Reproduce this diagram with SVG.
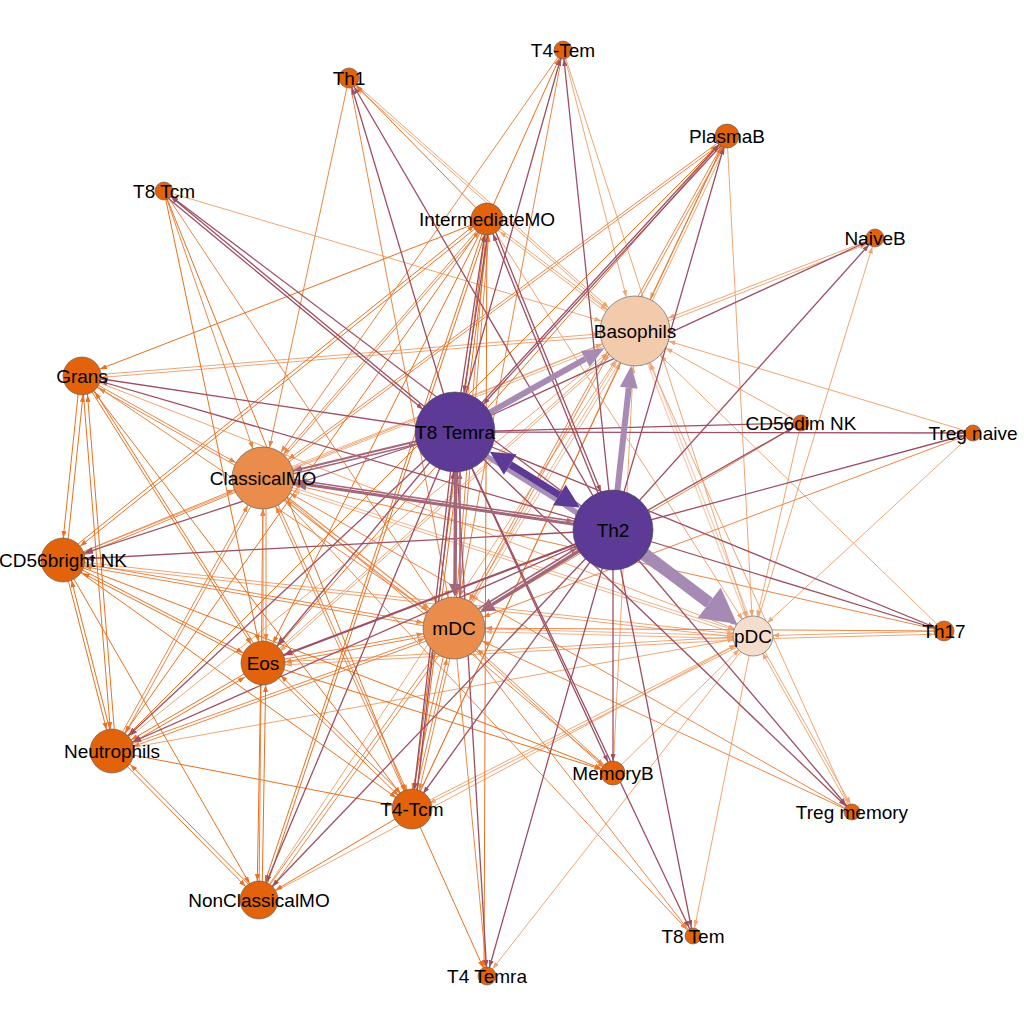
<svg xmlns="http://www.w3.org/2000/svg" width="1024" height="1024" viewBox="0 0 1024 1024">
<style>
line{fill:none}
.o{stroke:#e8701f;stroke-width:1}
.om{stroke:#eb8544;stroke-width:1}
.ol{stroke:#f1a572;stroke-width:1}
.ml{stroke:#f0b28a;stroke-width:1}
.mm{stroke:#e98c4c;stroke-width:1.2}
.ll{stroke:#f2cbb4;stroke-width:1.2}
.v{stroke:#9e4f62;stroke-width:1.3}
.v2{stroke:#9e4f62;stroke-width:2.2}
.vm{stroke:#a5677a;stroke-width:1.6}
.vl{stroke:#ab8db6;stroke-width:1.2}
.fo{fill:#e8701f}.fom{fill:#eb8544}.fol{fill:#f1a572}.fml{fill:#f0b28a}.fmm{fill:#e98c4c}.fll{fill:#f2cbb4}.fv{fill:#9e4f62}.fvm{fill:#a5677a}.fvl{fill:#ab8db6}
.nd{fill:#e3630d;stroke:#555;stroke-width:0.6}
.nm{fill:#ea8c4c;stroke:#555;stroke-width:0.6}
.nb{fill:#f2cbad;stroke:#555;stroke-width:0.6}
.np{fill:#f4ddcc;stroke:#555;stroke-width:0.6}
.nv{fill:#5c3a96;stroke:#444;stroke-width:0.6}
text{font-family:"Liberation Sans",Arial,Helvetica,sans-serif;font-size:19px;fill:#000;text-anchor:middle}
</style>
<defs>
<marker id="o9" markerUnits="userSpaceOnUse" markerWidth="7" markerHeight="5" refX="16" refY="2.5" orient="auto"><path d="M0,0L7,2.5L0,5z" class="fo"/></marker>
<marker id="o10" markerUnits="userSpaceOnUse" markerWidth="7" markerHeight="5" refX="17" refY="2.5" orient="auto"><path d="M0,0L7,2.5L0,5z" class="fo"/></marker>
<marker id="o12" markerUnits="userSpaceOnUse" markerWidth="7" markerHeight="5" refX="19" refY="2.5" orient="auto"><path d="M0,0L7,2.5L0,5z" class="fo"/></marker>
<marker id="o16" markerUnits="userSpaceOnUse" markerWidth="7" markerHeight="5" refX="23" refY="2.5" orient="auto"><path d="M0,0L7,2.5L0,5z" class="fo"/></marker>
<marker id="o19" markerUnits="userSpaceOnUse" markerWidth="7" markerHeight="5" refX="26" refY="2.5" orient="auto"><path d="M0,0L7,2.5L0,5z" class="fo"/></marker>
<marker id="o22" markerUnits="userSpaceOnUse" markerWidth="7" markerHeight="5" refX="29" refY="2.5" orient="auto"><path d="M0,0L7,2.5L0,5z" class="fo"/></marker>
<marker id="om9" markerUnits="userSpaceOnUse" markerWidth="7" markerHeight="5" refX="16" refY="2.5" orient="auto"><path d="M0,0L7,2.5L0,5z" class="fom"/></marker>
<marker id="om12" markerUnits="userSpaceOnUse" markerWidth="7" markerHeight="5" refX="19" refY="2.5" orient="auto"><path d="M0,0L7,2.5L0,5z" class="fom"/></marker>
<marker id="om16" markerUnits="userSpaceOnUse" markerWidth="7" markerHeight="5" refX="23" refY="2.5" orient="auto"><path d="M0,0L7,2.5L0,5z" class="fom"/></marker>
<marker id="om19" markerUnits="userSpaceOnUse" markerWidth="7" markerHeight="5" refX="26" refY="2.5" orient="auto"><path d="M0,0L7,2.5L0,5z" class="fom"/></marker>
<marker id="om22" markerUnits="userSpaceOnUse" markerWidth="7" markerHeight="5" refX="29" refY="2.5" orient="auto"><path d="M0,0L7,2.5L0,5z" class="fom"/></marker>
<marker id="om31" markerUnits="userSpaceOnUse" markerWidth="7" markerHeight="5" refX="38" refY="2.5" orient="auto"><path d="M0,0L7,2.5L0,5z" class="fom"/></marker>
<marker id="ol9" markerUnits="userSpaceOnUse" markerWidth="7" markerHeight="5" refX="16" refY="2.5" orient="auto"><path d="M0,0L7,2.5L0,5z" class="fol"/></marker>
<marker id="ol10" markerUnits="userSpaceOnUse" markerWidth="7" markerHeight="5" refX="17" refY="2.5" orient="auto"><path d="M0,0L7,2.5L0,5z" class="fol"/></marker>
<marker id="ol12" markerUnits="userSpaceOnUse" markerWidth="7" markerHeight="5" refX="19" refY="2.5" orient="auto"><path d="M0,0L7,2.5L0,5z" class="fol"/></marker>
<marker id="ol16" markerUnits="userSpaceOnUse" markerWidth="7" markerHeight="5" refX="23" refY="2.5" orient="auto"><path d="M0,0L7,2.5L0,5z" class="fol"/></marker>
<marker id="ol19" markerUnits="userSpaceOnUse" markerWidth="7" markerHeight="5" refX="26" refY="2.5" orient="auto"><path d="M0,0L7,2.5L0,5z" class="fol"/></marker>
<marker id="ol22" markerUnits="userSpaceOnUse" markerWidth="7" markerHeight="5" refX="29" refY="2.5" orient="auto"><path d="M0,0L7,2.5L0,5z" class="fol"/></marker>
<marker id="ol35" markerUnits="userSpaceOnUse" markerWidth="7" markerHeight="5" refX="42" refY="2.5" orient="auto"><path d="M0,0L7,2.5L0,5z" class="fol"/></marker>
<marker id="ml19" markerUnits="userSpaceOnUse" markerWidth="7" markerHeight="5" refX="26" refY="2.5" orient="auto"><path d="M0,0L7,2.5L0,5z" class="fml"/></marker>
<marker id="ml31" markerUnits="userSpaceOnUse" markerWidth="7" markerHeight="5" refX="38" refY="2.5" orient="auto"><path d="M0,0L7,2.5L0,5z" class="fml"/></marker>
<marker id="ml35" markerUnits="userSpaceOnUse" markerWidth="7" markerHeight="5" refX="42" refY="2.5" orient="auto"><path d="M0,0L7,2.5L0,5z" class="fml"/></marker>
<marker id="mm31" markerUnits="userSpaceOnUse" markerWidth="7" markerHeight="5" refX="38" refY="2.5" orient="auto"><path d="M0,0L7,2.5L0,5z" class="fmm"/></marker>
<marker id="ll19" markerUnits="userSpaceOnUse" markerWidth="7" markerHeight="5" refX="26" refY="2.5" orient="auto"><path d="M0,0L7,2.5L0,5z" class="fll"/></marker>
<marker id="ll35" markerUnits="userSpaceOnUse" markerWidth="7" markerHeight="5" refX="42" refY="2.5" orient="auto"><path d="M0,0L7,2.5L0,5z" class="fll"/></marker>
<marker id="v9" markerUnits="userSpaceOnUse" markerWidth="7" markerHeight="5" refX="16" refY="2.5" orient="auto"><path d="M0,0L7,2.5L0,5z" class="fv"/></marker>
<marker id="v10" markerUnits="userSpaceOnUse" markerWidth="7" markerHeight="5" refX="17" refY="2.5" orient="auto"><path d="M0,0L7,2.5L0,5z" class="fv"/></marker>
<marker id="v12" markerUnits="userSpaceOnUse" markerWidth="7" markerHeight="5" refX="19" refY="2.5" orient="auto"><path d="M0,0L7,2.5L0,5z" class="fv"/></marker>
<marker id="v16" markerUnits="userSpaceOnUse" markerWidth="7" markerHeight="5" refX="23" refY="2.5" orient="auto"><path d="M0,0L7,2.5L0,5z" class="fv"/></marker>
<marker id="v19" markerUnits="userSpaceOnUse" markerWidth="7" markerHeight="5" refX="26" refY="2.5" orient="auto"><path d="M0,0L7,2.5L0,5z" class="fv"/></marker>
<marker id="v22" markerUnits="userSpaceOnUse" markerWidth="9" markerHeight="7" refX="31" refY="3.5" orient="auto"><path d="M0,0L9,3.5L0,7z" class="fv"/></marker>
<marker id="v40" markerUnits="userSpaceOnUse" markerWidth="7" markerHeight="5" refX="47" refY="2.5" orient="auto"><path d="M0,0L7,2.5L0,5z" class="fv"/></marker>
<marker id="vm31" markerUnits="userSpaceOnUse" markerWidth="9" markerHeight="7" refX="40" refY="3.5" orient="auto"><path d="M0,0L9,3.5L0,7z" class="fvm"/></marker>
<marker id="vm40" markerUnits="userSpaceOnUse" markerWidth="7" markerHeight="5" refX="47" refY="2.5" orient="auto"><path d="M0,0L7,2.5L0,5z" class="fvm"/></marker>
<marker id="vl19" markerUnits="userSpaceOnUse" markerWidth="7" markerHeight="5" refX="26" refY="2.5" orient="auto"><path d="M0,0L7,2.5L0,5z" class="fvl"/></marker>
</defs>
<rect width="1024" height="1024" fill="#fff"/>
<g id="edges">
<line class="ll" x1="635" y1="331" x2="753" y2="636" marker-end="url(#ll19)"/>
<line class="ll" x1="756" y1="635" x2="638" y2="330" marker-end="url(#ll35)"/>
<line class="ml" x1="263" y1="478" x2="635" y2="331" marker-end="url(#ml35)"/>
<line class="ml" x1="635" y1="334" x2="263" y2="481" marker-end="url(#ml31)"/>
<line class="ml" x1="454" y1="628" x2="635" y2="331" marker-end="url(#ml35)"/>
<line class="ml" x1="638" y1="332" x2="457" y2="629" marker-end="url(#ml31)"/>
<line class="ml" x1="263" y1="478" x2="753" y2="636" marker-end="url(#ml19)"/>
<line class="ml" x1="753" y1="639" x2="263" y2="481" marker-end="url(#ml31)"/>
<line class="ml" x1="454" y1="628" x2="753" y2="636" marker-end="url(#ml19)"/>
<line class="ml" x1="753" y1="639" x2="454" y2="631" marker-end="url(#ml31)"/>
<line class="mm" x1="263" y1="478" x2="454" y2="628" marker-end="url(#mm31)"/>
<line class="mm" x1="452" y1="631" x2="261" y2="481" marker-end="url(#mm31)"/>
<line class="ol" x1="727" y1="136" x2="635" y2="331" marker-end="url(#ol35)"/>
<line class="ol" x1="638" y1="331" x2="730" y2="137" marker-end="url(#ol12)"/>
<line class="ol" x1="563" y1="50" x2="635" y2="331" marker-end="url(#ol35)"/>
<line class="ol" x1="349" y1="78" x2="635" y2="331" marker-end="url(#ol35)"/>
<line class="ol" x1="635" y1="334" x2="349" y2="81" marker-end="url(#ol10)"/>
<line class="ol" x1="487" y1="219" x2="635" y2="331" marker-end="url(#ol35)"/>
<line class="ol" x1="635" y1="334" x2="487" y2="222" marker-end="url(#ol16)"/>
<line class="ol" x1="875" y1="238" x2="635" y2="331" marker-end="url(#ol35)"/>
<line class="ol" x1="635" y1="334" x2="875" y2="241" marker-end="url(#ol9)"/>
<line class="ol" x1="164" y1="191" x2="635" y2="331" marker-end="url(#ol35)"/>
<line class="ol" x1="82" y1="376" x2="635" y2="331" marker-end="url(#ol35)"/>
<line class="ol" x1="635" y1="334" x2="82" y2="379" marker-end="url(#ol19)"/>
<line class="ol" x1="63" y1="560" x2="635" y2="331" marker-end="url(#ol35)"/>
<line class="ol" x1="112" y1="751" x2="635" y2="331" marker-end="url(#ol35)"/>
<line class="ol" x1="263" y1="663" x2="635" y2="331" marker-end="url(#ol35)"/>
<line class="ol" x1="635" y1="334" x2="263" y2="666" marker-end="url(#ol22)"/>
<line class="ol" x1="259" y1="900" x2="635" y2="331" marker-end="url(#ol35)"/>
<line class="ol" x1="412" y1="809" x2="635" y2="331" marker-end="url(#ol35)"/>
<line class="ol" x1="613" y1="773" x2="635" y2="331" marker-end="url(#ol35)"/>
<line class="ol" x1="973" y1="433" x2="635" y2="331" marker-end="url(#ol35)"/>
<line class="ol" x1="944" y1="631" x2="635" y2="331" marker-end="url(#ol35)"/>
<line class="ol" x1="852" y1="812" x2="635" y2="331" marker-end="url(#ol35)"/>
<line class="ol" x1="801" y1="423" x2="635" y2="331" marker-end="url(#ol35)"/>
<line class="ol" x1="727" y1="136" x2="753" y2="636" marker-end="url(#ol19)"/>
<line class="ol" x1="563" y1="50" x2="753" y2="636" marker-end="url(#ol19)"/>
<line class="ol" x1="487" y1="219" x2="753" y2="636" marker-end="url(#ol19)"/>
<line class="ol" x1="753" y1="636" x2="875" y2="238" marker-end="url(#ol9)"/>
<line class="ol" x1="801" y1="423" x2="753" y2="636" marker-end="url(#ol19)"/>
<line class="ol" x1="973" y1="433" x2="753" y2="636" marker-end="url(#ol19)"/>
<line class="ol" x1="944" y1="631" x2="753" y2="636" marker-end="url(#ol19)"/>
<line class="ol" x1="753" y1="639" x2="944" y2="634" marker-end="url(#ol10)"/>
<line class="ol" x1="852" y1="812" x2="753" y2="636" marker-end="url(#ol19)"/>
<line class="ol" x1="756" y1="636" x2="855" y2="812" marker-end="url(#ol9)"/>
<line class="ol" x1="82" y1="376" x2="753" y2="636" marker-end="url(#ol19)"/>
<line class="ol" x1="63" y1="560" x2="753" y2="636" marker-end="url(#ol19)"/>
<line class="ol" x1="753" y1="639" x2="63" y2="563" marker-end="url(#ol22)"/>
<line class="ol" x1="112" y1="751" x2="753" y2="636" marker-end="url(#ol19)"/>
<line class="ol" x1="263" y1="663" x2="753" y2="636" marker-end="url(#ol19)"/>
<line class="ol" x1="753" y1="639" x2="263" y2="666" marker-end="url(#ol22)"/>
<line class="ol" x1="259" y1="900" x2="753" y2="636" marker-end="url(#ol19)"/>
<line class="ol" x1="412" y1="809" x2="753" y2="636" marker-end="url(#ol19)"/>
<line class="ol" x1="753" y1="639" x2="412" y2="812" marker-end="url(#ol19)"/>
<line class="ol" x1="613" y1="773" x2="753" y2="636" marker-end="url(#ol19)"/>
<line class="ol" x1="753" y1="636" x2="693" y2="936" marker-end="url(#ol9)"/>
<line class="ol" x1="753" y1="636" x2="487" y2="976" marker-end="url(#ol9)"/>
<line class="om" x1="82" y1="376" x2="263" y2="478" marker-end="url(#om31)"/>
<line class="om" x1="263" y1="481" x2="82" y2="379" marker-end="url(#om19)"/>
<line class="om" x1="82" y1="376" x2="454" y2="628" marker-end="url(#om31)"/>
<line class="om" x1="63" y1="560" x2="263" y2="478" marker-end="url(#om31)"/>
<line class="om" x1="263" y1="481" x2="63" y2="563" marker-end="url(#om22)"/>
<line class="om" x1="63" y1="560" x2="454" y2="628" marker-end="url(#om31)"/>
<line class="om" x1="454" y1="631" x2="63" y2="563" marker-end="url(#om22)"/>
<line class="om" x1="112" y1="751" x2="263" y2="478" marker-end="url(#om31)"/>
<line class="om" x1="266" y1="479" x2="115" y2="752" marker-end="url(#om22)"/>
<line class="om" x1="112" y1="751" x2="454" y2="628" marker-end="url(#om31)"/>
<line class="om" x1="454" y1="631" x2="112" y2="754" marker-end="url(#om22)"/>
<line class="om" x1="263" y1="663" x2="263" y2="478" marker-end="url(#om31)"/>
<line class="om" x1="266" y1="478" x2="266" y2="663" marker-end="url(#om22)"/>
<line class="om" x1="263" y1="663" x2="454" y2="628" marker-end="url(#om31)"/>
<line class="om" x1="454" y1="631" x2="263" y2="666" marker-end="url(#om22)"/>
<line class="om" x1="259" y1="900" x2="263" y2="478" marker-end="url(#om31)"/>
<line class="om" x1="259" y1="900" x2="454" y2="628" marker-end="url(#om31)"/>
<line class="om" x1="457" y1="630" x2="262" y2="902" marker-end="url(#om19)"/>
<line class="om" x1="412" y1="809" x2="263" y2="478" marker-end="url(#om31)"/>
<line class="om" x1="266" y1="478" x2="415" y2="809" marker-end="url(#om19)"/>
<line class="om" x1="412" y1="809" x2="454" y2="628" marker-end="url(#om31)"/>
<line class="om" x1="457" y1="628" x2="415" y2="809" marker-end="url(#om19)"/>
<line class="om" x1="450" y1="628" x2="408" y2="809" marker-end="url(#om19)"/>
<line class="om" x1="487" y1="219" x2="263" y2="478" marker-end="url(#om31)"/>
<line class="om" x1="266" y1="478" x2="490" y2="219" marker-end="url(#om16)"/>
<line class="om" x1="487" y1="219" x2="454" y2="628" marker-end="url(#om31)"/>
<line class="om" x1="457" y1="628" x2="490" y2="219" marker-end="url(#om16)"/>
<line class="om" x1="164" y1="191" x2="263" y2="478" marker-end="url(#om31)"/>
<line class="om" x1="164" y1="191" x2="454" y2="628" marker-end="url(#om31)"/>
<line class="om" x1="349" y1="78" x2="263" y2="478" marker-end="url(#om31)"/>
<line class="om" x1="349" y1="78" x2="454" y2="628" marker-end="url(#om31)"/>
<line class="om" x1="563" y1="50" x2="263" y2="478" marker-end="url(#om31)"/>
<line class="om" x1="563" y1="50" x2="454" y2="628" marker-end="url(#om31)"/>
<line class="om" x1="727" y1="136" x2="263" y2="478" marker-end="url(#om31)"/>
<line class="om" x1="263" y1="481" x2="727" y2="139" marker-end="url(#om12)"/>
<line class="om" x1="727" y1="136" x2="454" y2="628" marker-end="url(#om31)"/>
<line class="om" x1="457" y1="628" x2="730" y2="136" marker-end="url(#om12)"/>
<line class="om" x1="801" y1="423" x2="454" y2="628" marker-end="url(#om31)"/>
<line class="om" x1="973" y1="433" x2="454" y2="628" marker-end="url(#om31)"/>
<line class="om" x1="944" y1="631" x2="263" y2="478" marker-end="url(#om31)"/>
<line class="om" x1="944" y1="631" x2="454" y2="628" marker-end="url(#om31)"/>
<line class="om" x1="852" y1="812" x2="454" y2="628" marker-end="url(#om31)"/>
<line class="om" x1="852" y1="812" x2="263" y2="478" marker-end="url(#om31)"/>
<line class="om" x1="613" y1="773" x2="454" y2="628" marker-end="url(#om31)"/>
<line class="om" x1="454" y1="631" x2="613" y2="776" marker-end="url(#om12)"/>
<line class="om" x1="263" y1="478" x2="613" y2="773" marker-end="url(#om12)"/>
<line class="om" x1="263" y1="478" x2="693" y2="936" marker-end="url(#om9)"/>
<line class="om" x1="454" y1="628" x2="487" y2="976" marker-end="url(#om9)"/>
<line class="om" x1="454" y1="628" x2="693" y2="936" marker-end="url(#om9)"/>
<line class="o" x1="80" y1="376" x2="61" y2="560" marker-end="url(#o22)"/>
<line class="o" x1="66" y1="560" x2="85" y2="376" marker-end="url(#o19)"/>
<line class="o" x1="82" y1="376" x2="112" y2="751" marker-end="url(#o22)"/>
<line class="o" x1="116" y1="751" x2="86" y2="376" marker-end="url(#o19)"/>
<line class="o" x1="63" y1="560" x2="112" y2="751" marker-end="url(#o22)"/>
<line class="o" x1="115" y1="750" x2="66" y2="559" marker-end="url(#o22)"/>
<line class="o" x1="82" y1="376" x2="263" y2="663" marker-end="url(#o22)"/>
<line class="o" x1="82" y1="376" x2="412" y2="809" marker-end="url(#o19)"/>
<line class="o" x1="63" y1="560" x2="263" y2="663" marker-end="url(#o22)"/>
<line class="o" x1="263" y1="666" x2="63" y2="563" marker-end="url(#o22)"/>
<line class="o" x1="63" y1="560" x2="412" y2="809" marker-end="url(#o19)"/>
<line class="o" x1="63" y1="560" x2="259" y2="900" marker-end="url(#o19)"/>
<line class="o" x1="63" y1="560" x2="613" y2="773" marker-end="url(#o12)"/>
<line class="o" x1="112" y1="751" x2="259" y2="900" marker-end="url(#o19)"/>
<line class="o" x1="262" y1="898" x2="115" y2="749" marker-end="url(#o22)"/>
<line class="o" x1="112" y1="751" x2="412" y2="809" marker-end="url(#o19)"/>
<line class="o" x1="261" y1="663" x2="257" y2="900" marker-end="url(#o19)"/>
<line class="o" x1="262" y1="900" x2="266" y2="663" marker-end="url(#o22)"/>
<line class="o" x1="263" y1="663" x2="412" y2="809" marker-end="url(#o19)"/>
<line class="o" x1="414" y1="806" x2="265" y2="660" marker-end="url(#o22)"/>
<line class="o" x1="263" y1="663" x2="112" y2="751" marker-end="url(#o22)"/>
<line class="o" x1="113" y1="754" x2="264" y2="666" marker-end="url(#o22)"/>
<line class="o" x1="266" y1="663" x2="85" y2="376" marker-end="url(#o19)"/>
<line class="o" x1="487" y1="219" x2="63" y2="560" marker-end="url(#o22)"/>
<line class="o" x1="63" y1="556" x2="487" y2="215" marker-end="url(#o16)"/>
<line class="o" x1="487" y1="219" x2="82" y2="376" marker-end="url(#o19)"/>
<line class="o" x1="487" y1="219" x2="112" y2="751" marker-end="url(#o22)"/>
<line class="o" x1="487" y1="219" x2="263" y2="663" marker-end="url(#o22)"/>
<line class="o" x1="487" y1="219" x2="259" y2="900" marker-end="url(#o19)"/>
<line class="o" x1="487" y1="219" x2="412" y2="809" marker-end="url(#o19)"/>
<line class="o" x1="415" y1="809" x2="490" y2="219" marker-end="url(#o16)"/>
<line class="o" x1="262" y1="900" x2="490" y2="219" marker-end="url(#o16)"/>
<line class="o" x1="412" y1="809" x2="259" y2="900" marker-end="url(#o19)"/>
<line class="o" x1="412" y1="809" x2="487" y2="976" marker-end="url(#o9)"/>
<line class="o" x1="487" y1="219" x2="484" y2="976" marker-end="url(#o9)"/>
<line class="o" x1="263" y1="663" x2="613" y2="773" marker-end="url(#o12)"/>
<line class="o" x1="164" y1="191" x2="263" y2="663" marker-end="url(#o22)"/>
<line class="o" x1="164" y1="191" x2="412" y2="809" marker-end="url(#o19)"/>
<line class="o" x1="487" y1="219" x2="563" y2="50" marker-end="url(#o9)"/>
<line class="o" x1="487" y1="219" x2="349" y2="78" marker-end="url(#o10)"/>
<line class="o" x1="263" y1="663" x2="727" y2="136" marker-end="url(#o12)"/>
<line class="o" x1="112" y1="751" x2="727" y2="136" marker-end="url(#o12)"/>
<line class="o" x1="412" y1="809" x2="727" y2="136" marker-end="url(#o12)"/>
<line class="v" x1="455" y1="432" x2="349" y2="78" marker-end="url(#v10)"/>
<line class="v" x1="455" y1="432" x2="563" y2="50" marker-end="url(#v9)"/>
<line class="v" x1="455" y1="432" x2="164" y2="191" marker-end="url(#v9)"/>
<line class="v" x1="455" y1="432" x2="727" y2="136" marker-end="url(#v12)"/>
<line class="v" x1="455" y1="432" x2="875" y2="238" marker-end="url(#v9)"/>
<line class="v" x1="455" y1="432" x2="487" y2="219" marker-end="url(#v16)"/>
<line class="v" x1="455" y1="432" x2="801" y2="423" marker-end="url(#v9)"/>
<line class="v" x1="455" y1="432" x2="973" y2="433" marker-end="url(#v9)"/>
<line class="v" x1="455" y1="432" x2="944" y2="631" marker-end="url(#v10)"/>
<line class="v" x1="455" y1="432" x2="852" y2="812" marker-end="url(#v9)"/>
<line class="v" x1="455" y1="432" x2="613" y2="773" marker-end="url(#v12)"/>
<line class="v" x1="455" y1="432" x2="693" y2="936" marker-end="url(#v9)"/>
<line class="v" x1="455" y1="432" x2="487" y2="976" marker-end="url(#v9)"/>
<line class="v" x1="455" y1="432" x2="412" y2="809" marker-end="url(#v19)"/>
<line class="v" x1="455" y1="432" x2="259" y2="900" marker-end="url(#v19)"/>
<line class="v" x1="455" y1="432" x2="112" y2="751" marker-end="url(#v22)"/>
<line class="v" x1="455" y1="432" x2="263" y2="663" marker-end="url(#v22)"/>
<line class="v" x1="455" y1="432" x2="63" y2="560" marker-end="url(#v22)"/>
<line class="v" x1="455" y1="432" x2="82" y2="376" marker-end="url(#v19)"/>
<line class="v" x1="613" y1="530" x2="349" y2="78" marker-end="url(#v10)"/>
<line class="v" x1="613" y1="530" x2="563" y2="50" marker-end="url(#v9)"/>
<line class="v" x1="613" y1="530" x2="727" y2="136" marker-end="url(#v12)"/>
<line class="v" x1="613" y1="530" x2="875" y2="238" marker-end="url(#v9)"/>
<line class="v" x1="613" y1="530" x2="487" y2="219" marker-end="url(#v16)"/>
<line class="v" x1="613" y1="530" x2="801" y2="423" marker-end="url(#v9)"/>
<line class="v" x1="613" y1="530" x2="973" y2="433" marker-end="url(#v9)"/>
<line class="v" x1="613" y1="530" x2="944" y2="631" marker-end="url(#v10)"/>
<line class="v" x1="613" y1="530" x2="852" y2="812" marker-end="url(#v9)"/>
<line class="v" x1="613" y1="530" x2="613" y2="773" marker-end="url(#v12)"/>
<line class="v" x1="613" y1="530" x2="693" y2="936" marker-end="url(#v9)"/>
<line class="v" x1="613" y1="530" x2="487" y2="976" marker-end="url(#v9)"/>
<line class="v" x1="613" y1="530" x2="412" y2="809" marker-end="url(#v19)"/>
<line class="v" x1="613" y1="530" x2="259" y2="900" marker-end="url(#v19)"/>
<line class="v" x1="613" y1="530" x2="112" y2="751" marker-end="url(#v22)"/>
<line class="v" x1="613" y1="530" x2="63" y2="560" marker-end="url(#v22)"/>
<line class="v" x1="613" y1="530" x2="82" y2="376" marker-end="url(#v19)"/>
<line class="v" x1="613" y1="530" x2="164" y2="191" marker-end="url(#v9)"/>
<line class="v2" x1="613" y1="530" x2="263" y2="663" marker-end="url(#v22)"/>
<line class="v" x1="490" y1="219" x2="458" y2="432" marker-end="url(#v40)"/>
<line class="v" x1="415" y1="809" x2="458" y2="432" marker-end="url(#v40)"/>
<line class="v" x1="728" y1="138" x2="456" y2="434" marker-end="url(#v40)"/>
<line class="v" x1="163" y1="194" x2="454" y2="435" marker-end="url(#v40)"/>
<line class="v" x1="490" y1="218" x2="616" y2="529" marker-end="url(#v40)"/>
<line class="vm" x1="455" y1="432" x2="263" y2="478" marker-end="url(#vm31)" style="stroke-width:2"/>
<line class="vm" x1="263" y1="481" x2="455" y2="435" marker-end="url(#vm40)"/>
<line class="vm" x1="460" y1="628" x2="460" y2="432" marker-end="url(#vm40)"/>
<line class="vm" x1="263" y1="475" x2="613" y2="527" marker-end="url(#vm40)"/>
<line class="vm" x1="452" y1="625" x2="611" y2="527" marker-end="url(#vm40)"/>
<line class="vl" x1="455" y1="432" x2="753" y2="636" marker-end="url(#vl19)"/>
<line x1="455" y1="432" x2="585.3" y2="358.9" stroke="#a78bb5" stroke-width="6"/>
<polygon points="604.5,348.1 589.7,366.7 580.9,351.1" fill="#a78bb5"/>
<line x1="613" y1="530" x2="628.8" y2="387.7" stroke="#a78bb5" stroke-width="6"/>
<polygon points="631.2,365.8 637.7,388.7 619.9,386.7" fill="#a78bb5"/>
<line x1="613" y1="530" x2="709.2" y2="602.8" stroke="#a58ab3" stroke-width="12"/>
<polygon points="737.1,623.9 697.7,618.0 720.7,587.7" fill="#a58ab3"/>
<line x1="486.9" y1="456.5" x2="576.9" y2="512.3" stroke="#a88fb8" stroke-width="5"/>
<line x1="510.2" y1="464.5" x2="559.4" y2="495.0" stroke="#5c3a96" stroke-width="7"/>
<polygon points="579.8,507.6 553.1,505.2 565.7,484.8" fill="#5c3a96"/>
<polygon points="489.8,451.8 503.9,474.7 516.5,454.3" fill="#5c3a96"/>
<line x1="456" y1="440" x2="455" y2="585" stroke="#a3677a" stroke-width="3.5"/>
<polygon points="455,597 449,584 461,584" fill="#a3677a"/>
<line x1="613" y1="530" x2="492.3" y2="604.4" stroke="#a3677a" stroke-width="3.5"/>
<polygon points="480.4,611.7 488.6,598.4 496.0,610.4" fill="#a3677a"/>
<line x1="613" y1="530" x2="306.5" y2="484.5" stroke="#a3677a" stroke-width="3"/>
<polygon points="292.7,482.4 307.4,478.6 305.6,490.4" fill="#a3677a"/>
</g>
<g id="n-T4-Tem"><circle class="nd" cx="563" cy="50" r="9"/><text x="563" y="57">T4-Tem</text></g>
<g id="n-Th1"><circle class="nd" cx="349" cy="78" r="10"/><text x="349" y="85">Th1</text></g>
<g id="n-PlasmaB"><circle class="nd" cx="727" cy="136" r="12"/><text x="727" y="143">PlasmaB</text></g>
<g id="n-T8Tcm"><circle class="nd" cx="164" cy="191" r="9"/><text x="164" y="198">T8 Tcm</text></g>
<g id="n-IntermediateMO"><circle class="nd" cx="487" cy="219" r="16"/><text x="487" y="226">IntermediateMO</text></g>
<g id="n-NaiveB"><circle class="nd" cx="875" cy="238" r="9"/><text x="875" y="245">NaiveB</text></g>
<g id="n-Basophils"><circle class="nb" cx="635" cy="331" r="35"/><text x="635" y="338">Basophils</text></g>
<g id="n-Grans"><circle class="nd" cx="82" cy="376" r="19"/><text x="82" y="383">Grans</text></g>
<g id="n-T8Temra"><circle class="nv" cx="455" cy="432" r="40"/><text x="455" y="439">T8 Temra</text></g>
<g id="n-CD56dimNK"><circle class="nd" cx="801" cy="423" r="8"/><text x="801" y="430">CD56dim NK</text></g>
<g id="n-TregNaive"><circle class="nd" cx="973" cy="433" r="8"/><text x="973" y="440">Treg naive</text></g>
<g id="n-ClassicalMO"><circle class="nm" cx="263" cy="478" r="31"/><text x="263" y="485">ClassicalMO</text></g>
<g id="n-Th2"><circle class="nv" cx="613" cy="530" r="40"/><text x="613" y="537">Th2</text></g>
<g id="n-CD56brightNK"><circle class="nd" cx="63" cy="560" r="22"/><text x="63" y="567">CD56bright NK</text></g>
<g id="n-pDC"><circle class="np" cx="753" cy="636" r="20"/><text x="753" y="643">pDC</text></g>
<g id="n-Th17"><circle class="nd" cx="944" cy="631" r="10"/><text x="944" y="638">Th17</text></g>
<g id="n-mDC"><circle class="nm" cx="454" cy="628" r="31"/><text x="454" y="635">mDC</text></g>
<g id="n-Eos"><circle class="nd" cx="263" cy="663" r="22"/><text x="263" y="670">Eos</text></g>
<g id="n-Neutrophils"><circle class="nd" cx="112" cy="751" r="22"/><text x="112" y="758">Neutrophils</text></g>
<g id="n-MemoryB"><circle class="nd" cx="613" cy="773" r="12"/><text x="613" y="780">MemoryB</text></g>
<g id="n-TregMemory"><circle class="nd" cx="852" cy="812" r="8"/><text x="852" y="819">Treg memory</text></g>
<g id="n-T4-Tcm"><circle class="nd" cx="412" cy="809" r="20"/><text x="412" y="816">T4-Tcm</text></g>
<g id="n-NonClassicalMO"><circle class="nd" cx="259" cy="900" r="19"/><text x="259" y="907">NonClassicalMO</text></g>
<g id="n-T8Tem"><circle class="nd" cx="693" cy="936" r="8"/><text x="693" y="943">T8 Tem</text></g>
<g id="n-T4Temra"><circle class="nd" cx="487" cy="976" r="9"/><text x="487" y="983">T4 Temra</text></g>
</svg>
